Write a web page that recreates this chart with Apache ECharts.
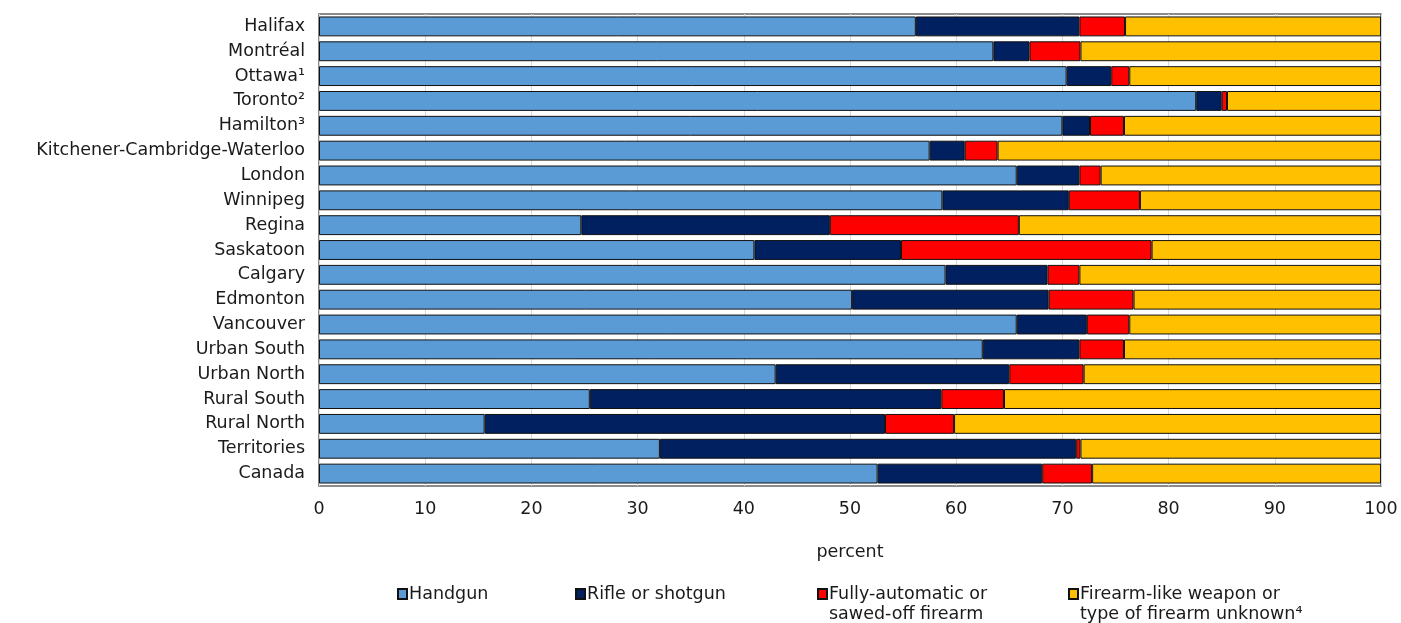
<!DOCTYPE html>
<html>
<head>
<meta charset="utf-8">
<script src="https://cdn.jsdelivr.net/npm/echarts@6/dist/echarts.min.js"></script>
<style>
  html, body { margin: 0; padding: 0; background: #fff; }
  #chart { width: 1401px; height: 623px; }
</style>
</head>
<body>
<div id="chart"></div>
<script>
const categories = [
  "Halifax", "Montréal", "Ottawa¹", "Toronto²", "Hamilton³",
  "Kitchener-Cambridge-Waterloo", "London", "Winnipeg", "Regina", "Saskatoon",
  "Calgary", "Edmonton", "Vancouver", "Urban South", "Urban North",
  "Rural South", "Rural North", "Territories", "Canada"
];
const handgun = [56.2, 63.5, 70.4, 82.6, 70.0, 57.5, 65.7, 58.7, 24.7, 41.0,
  59.0, 50.2, 65.7, 62.5, 43.0, 25.5, 15.6, 32.1, 52.6];
const rifle = [15.4, 3.4, 4.2, 2.4, 2.6, 3.3, 5.9, 11.9, 23.4, 13.8,
  9.6, 18.5, 6.6, 9.1, 22.0, 33.1, 37.7, 39.2, 15.5];
const fullyAuto = [4.3, 4.8, 1.7, 0.5, 3.2, 3.1, 2.0, 6.7, 17.8, 23.6,
  3.0, 8.0, 4.0, 4.2, 7.0, 5.9, 6.5, 0.4, 4.7];
const unknown = [24.1, 28.3, 23.7, 14.5, 24.2, 36.1, 26.4, 22.7, 34.1, 21.6,
  28.4, 23.3, 23.7, 24.2, 28.0, 35.5, 40.2, 28.3, 27.2];
const seriesNames = [
  "Handgun",
  "Rifle or shotgun",
  "Fully-automatic or\nsawed-off firearm",
  "Firearm-like weapon or\ntype of firearm unknown⁴"
];
const colors = ["#5B9BD5", "#002060", "#FF0000", "#FFC000"];
const values = [handgun, rifle, fullyAuto, unknown];

const chart = echarts.init(document.getElementById("chart"));
const font = "DejaVu Sans";
const fs = 17.5;

// one legend per item so each can sit where it does in the original
// two-line items: tall icon box with the square at its top, so it lines up with the first line
const tallIcon = "path://M0,0L9,0L9,10L0,10Z M0,30L0,30";
const legendLeft = [392, 570, 812, 1063];
const legends = seriesNames.map((name, i) => ({
  left: legendLeft[i],
  top: 579,
  itemWidth: 9,
  itemHeight: i < 2 ? 10 : 30,
  itemGap: 0,
  icon: i < 2 ? "rect" : tallIcon,
  selectedMode: false,
  data: [name],
  textStyle: {
    fontFamily: font,
    fontSize: fs,
    color: "#1a1a1a",
    lineHeight: 20,
    padding: [0, 0, 0, -3]
  }
}));

chart.setOption({
  animation: false,
  legend: legends,
  grid: {
    left: 319,
    right: 20,
    top: 14,
    bottom: 137,
    show: true,
    borderColor: "#666",
    borderWidth: 1.5
  },
  xAxis: {
    type: "value",
    min: 0,
    max: 100,
    interval: 10,
    name: "percent",
    nameLocation: "middle",
    nameGap: 57,
    nameTextStyle: { fontFamily: font, fontSize: fs, color: "#1a1a1a" },
    axisLine: { show: false },
    axisTick: { show: false },
    axisLabel: { fontFamily: font, fontSize: fs, color: "#1a1a1a", margin: 14 },
    splitLine: { show: true, lineStyle: { color: "#d9d9d9", width: 1 } }
  },
  yAxis: {
    type: "category",
    inverse: true,
    data: categories,
    axisLine: { show: false },
    axisTick: { show: false },
    axisLabel: { fontFamily: font, fontSize: fs, color: "#1a1a1a", margin: 14 }
  },
  series: seriesNames.map((name, i) => ({
    name: name,
    type: "bar",
    stack: "total",
    barCategoryGap: "20%",
    data: values[i],
    itemStyle: {
      color: colors[i],
      borderColor: "#111",
      borderWidth: 1
    }
  }))
});
</script>
</body>
</html>
